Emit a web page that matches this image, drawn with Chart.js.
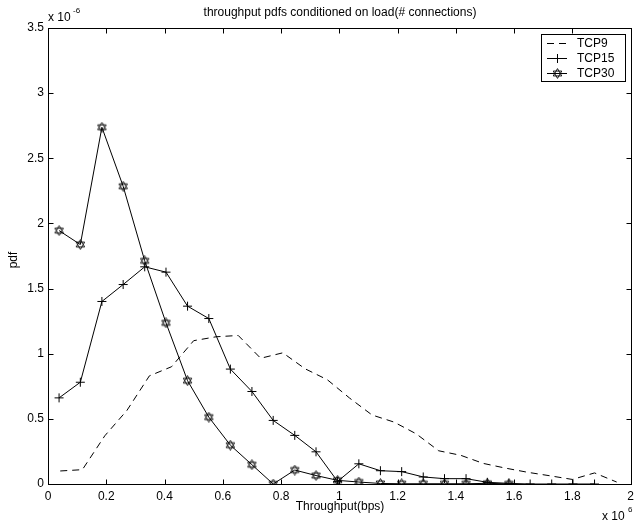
<!DOCTYPE html>
<html>
<head>
<meta charset="utf-8">
<script src="https://cdn.jsdelivr.net/npm/chart.js@4/dist/chart.umd.min.js"></script>
<style>
  html, body { margin: 0; padding: 0; background: #fff; }
  #chart { display: block; }
</style>
</head>
<body>
<canvas id="chart" width="639" height="522"></canvas>
<script>
// throughput in units of 1e6 bps, pdf in units of 1e-6
const tcp9X = [0.042, 0.118, 0.195, 0.271, 0.348, 0.424, 0.500, 0.577, 0.653, 0.730, 0.806, 0.882, 0.959,
  1.035, 1.112, 1.188, 1.264, 1.341, 1.417, 1.494, 1.570, 1.646, 1.723, 1.800, 1.876, 1.952];
const tcp9Y = [0.10, 0.11, 0.37, 0.565, 0.83, 0.90, 1.10, 1.13, 1.14, 0.965, 1.007, 0.885, 0.80,
  0.66, 0.53, 0.475, 0.385, 0.255, 0.22, 0.158, 0.122, 0.09, 0.063, 0.035, 0.085, 0.015];

const tcp15X = [0.038, 0.111, 0.185, 0.258, 0.332, 0.405, 0.479, 0.552, 0.626, 0.700, 0.773, 0.847, 0.920,
  0.994, 1.067, 1.141, 1.214, 1.288, 1.361, 1.435, 1.508, 1.582, 1.655, 1.729, 1.802, 1.876];
const tcp15Y = [0.661, 0.781, 1.401, 1.531, 1.667, 1.626, 1.365, 1.270, 0.882, 0.710, 0.488, 0.373, 0.247,
  0.02, 0.155, 0.102, 0.095, 0.054, 0.041, 0.041, 0.013, 0.005, 0, 0, 0, 0];

const tcp30X = [0.038, 0.111, 0.185, 0.258, 0.332, 0.405, 0.479, 0.552, 0.626, 0.700, 0.773, 0.847, 0.920,
  0.994, 1.067, 1.141, 1.214, 1.288, 1.361, 1.435, 1.508, 1.582];
const tcp30Y = [1.945, 1.838, 2.738, 2.285, 1.713, 1.237, 0.793, 0.513, 0.298, 0.148, 0.0, 0.107, 0.065,
  0.028, 0.015, 0.004, 0.002, 0.002, 0.002, 0.002, 0.005, 0.001];

const xTicks = [0, 0.2, 0.4, 0.6, 0.8, 1, 1.2, 1.4, 1.6, 1.8, 2];
const yTicks = [0, 0.5, 1, 1.5, 2, 2.5, 3, 3.5];
const seriesNames = ['TCP9', 'TCP15', 'TCP30'];

const FONT = '"Liberation Sans", Arial, Helvetica, sans-serif';
Chart.defaults.font.family = FONT;
Chart.defaults.font.size = 12;
Chart.defaults.color = '#000';

function hexagram(size) {
  const c = document.createElement('canvas');
  c.width = size;
  c.height = size;
  const g = c.getContext('2d');
  const r = size / 2 - 0.6;
  const m = size / 2;
  g.strokeStyle = '#000';
  g.lineWidth = 0.9;
  for (const rot of [-Math.PI / 2, Math.PI / 2]) {
    g.beginPath();
    for (let i = 0; i < 3; i++) {
      const a = rot + i * 2 * Math.PI / 3;
      const px = m + r * Math.cos(a);
      const py = m + r * Math.sin(a);
      if (i === 0) g.moveTo(px, py); else g.lineTo(px, py);
    }
    g.closePath();
    g.stroke();
  }
  return c;
}
const starMark = hexagram(11);

function toPoints(xs, ys) {
  return xs.map((x, i) => ({ x, y: ys[i] }));
}

// MATLAB style box, inward ticks, labels and legend
const matlabLook = {
  id: 'matlabLook',
  afterDraw(chart) {
    const { ctx, chartArea: a, scales } = chart;
    const xs = scales.x, ys = scales.y;
    const L = Math.round(a.left) + 0.5, R = Math.round(a.right) + 0.5;
    const T = Math.round(a.top) + 0.5, B = Math.round(a.bottom) + 0.5;
    ctx.save();
    ctx.strokeStyle = '#000';
    ctx.lineWidth = 1;
    ctx.strokeRect(L, T, R - L, B - T);
    ctx.beginPath();
    xTicks.forEach(v => {
      const px = Math.round(xs.getPixelForValue(v)) + 0.5;
      ctx.moveTo(px, B); ctx.lineTo(px, B - 5);
      ctx.moveTo(px, T); ctx.lineTo(px, T + 5);
    });
    yTicks.forEach(v => {
      const py = Math.round(ys.getPixelForValue(v)) + 0.5;
      ctx.moveTo(L, py); ctx.lineTo(L + 5, py);
      ctx.moveTo(R, py); ctx.lineTo(R - 5, py);
    });
    ctx.stroke();

    ctx.fillStyle = '#000';
    ctx.textAlign = 'center';
    ctx.textBaseline = 'middle';
    ctx.font = '12px ' + FONT;
    ctx.fillText('throughput pdfs conditioned on load(# connections)', (L + R) / 2, 13);
    ctx.fillText('Throughput(bps)', (L + R) / 2, 507);

    ctx.save();
    ctx.translate(14, 260);
    ctx.rotate(-Math.PI / 2);
    ctx.fillText('pdf', 0, 0);
    ctx.restore();

    // exponent labels
    ctx.textAlign = 'left';
    ctx.fillText('x 10', 48, 18);
    ctx.font = '8px ' + FONT;
    ctx.fillText('-6', 73, 11);
    ctx.font = '12px ' + FONT;
    ctx.fillText('x 10', 602, 517);
    ctx.font = '8px ' + FONT;
    ctx.fillText('6', 628, 510);

    // legend
    const bx = 541, by = 34, bw = 84, bh = 47;
    ctx.fillStyle = '#fff';
    ctx.fillRect(bx, by, bw, bh);
    ctx.strokeRect(bx + 0.5, by + 0.5, bw, bh);
    ctx.fillStyle = '#000';
    ctx.font = '12px ' + FONT;
    const rows = [43.5, 58.5, 73.5];
    chart.data.datasets.forEach((ds, i) => {
      const y = rows[i];
      ctx.beginPath();
      ctx.setLineDash(ds.borderDash || []);
      ctx.moveTo(547, y);
      ctx.lineTo(567, y);
      ctx.stroke();
      ctx.setLineDash([]);
      if (i === 1) {
        ctx.beginPath();
        ctx.moveTo(557.5, y - 4.5); ctx.lineTo(557.5, y + 4.5);
        ctx.moveTo(553, y); ctx.lineTo(562, y);
        ctx.stroke();
      } else if (i === 2) {
        ctx.drawImage(starMark, 552, y - 5.5);
      }
      ctx.fillText(seriesNames[i], 577, y);
    });
    ctx.restore();
  }
};

new Chart(document.getElementById('chart'), {
  type: 'scatter',
  data: {
    datasets: [
      {
        label: seriesNames[0],
        data: toPoints(tcp9X, tcp9Y),
        showLine: true,
        borderColor: '#000',
        borderWidth: 1,
        borderDash: [7, 5],
        pointRadius: 0,
        tension: 0
      },
      {
        label: seriesNames[1],
        data: toPoints(tcp15X, tcp15Y),
        showLine: true,
        borderColor: '#000',
        backgroundColor: '#000',
        borderWidth: 1,
        pointStyle: 'cross',
        pointRadius: 4.5,
        pointBorderWidth: 1,
        tension: 0
      },
      {
        label: seriesNames[2],
        data: toPoints(tcp30X, tcp30Y),
        showLine: true,
        borderColor: '#000',
        borderWidth: 1,
        pointStyle: starMark,
        pointRadius: 5,
        tension: 0
      }
    ]
  },
  options: {
    responsive: false,
    animation: false,
    devicePixelRatio: 1,
    layout: { padding: { top: 28, right: 7, left: 0, bottom: 0 } },
    plugins: {
      legend: { display: false },
      tooltip: { enabled: false },
      title: { display: false }
    },
    scales: {
      x: {
        type: 'linear',
        min: 0,
        max: 2,
        afterFit: (s) => { s.height = 38; },
        afterBuildTicks: (s) => { s.ticks = xTicks.map(v => ({ value: v })); },
        grid: { display: false, drawTicks: false, tickLength: 0 },
        border: { display: false },
        ticks: { padding: 5, maxRotation: 0, autoSkip: false, callback: (v) => String(+v.toFixed(1)) }
      },
      y: {
        type: 'linear',
        min: 0,
        max: 3.5,
        afterFit: (s) => { s.width = 48; },
        afterBuildTicks: (s) => { s.ticks = yTicks.map(v => ({ value: v })); },
        grid: { display: false, drawTicks: false, tickLength: 0 },
        border: { display: false },
        ticks: { padding: 4, autoSkip: false, callback: (v) => String(+v.toFixed(1)) }
      }
    }
  },
  plugins: [matlabLook]
});
</script>
</body>
</html>
